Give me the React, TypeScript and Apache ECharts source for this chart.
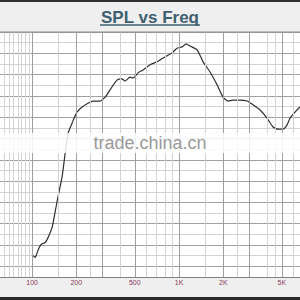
import React, { useEffect, useRef } from "react";
import * as echarts from "echarts";

const FREQ = [100, 105, 108, 112, 117, 123, 129, 137, 143, 150, 160, 168, 176, 187, 202, 219, 240, 260, 290, 314, 339, 378, 409, 429, 464, 486, 526, 569, 635, 709, 778, 896, 969, 1048, 1116, 1188, 1326, 1457, 1625, 1814, 1992, 2154, 2329, 2600, 2901, 3187, 3556, 3968, 4360, 4716, 5100, 5429, 5690, 6152, 6650];
const SPL = [52.7, 52.1, 53.1, 54.5, 55.3, 55.6, 56.9, 59.2, 62.5, 66.3, 71.0, 76.6, 81.3, 83.6, 86.2, 87.4, 88.3, 88.8, 88.8, 89.7, 91.4, 93.7, 94.0, 93.5, 94.4, 94.2, 95.4, 96.1, 97.3, 98.0, 98.9, 100.1, 101.2, 101.5, 102.2, 101.7, 100.8, 98.0, 95.6, 92.6, 89.7, 88.8, 89.0, 89.0, 88.8, 87.9, 86.7, 84.8, 82.7, 82.2, 82.2, 83.2, 84.8, 86.2, 87.4];

const MAJOR_GRID_FREQ = [100, 200, 300, 500, 1000, 2000, 3000, 5000];
const MINOR_GRID_FREQ = [65, 70, 75, 80, 85, 90, 95, 150, 250, 400, 600, 700, 800, 900, 1500, 2500, 4000, 4500, 6000];
const TICK_FREQ = [100, 200, 500, 1000, 2000, 5000];
const TICK_LABELS = ["100", "200", "500", "1K", "2K", "5K"];

const X_MIN = 60.5;
const X_MAX = 6650;
const Y_MIN = 47.5;
const Y_MAX = 105;
const Y_STEP = 2.5;

export default function App() {
  const ref = useRef<HTMLDivElement>(null);
  useEffect(() => {
    document.body.style.margin = "0";
    if (!ref.current) return;
    const chart = echarts.init(ref.current, null, { renderer: "svg" });

    const gridLines: any[] = [];
    MINOR_GRID_FREQ.forEach((f) =>
      gridLines.push({ xAxis: f, lineStyle: { color: "#d2d2d2", width: 1, type: "solid" }, label: { show: false } })
    );
    MAJOR_GRID_FREQ.forEach((f) => {
      const ti = TICK_FREQ.indexOf(f);
      gridLines.push({
        xAxis: f,
        lineStyle: { color: "#a0a0a0", width: 1, type: "solid" },
        label: ti >= 0
          ? { show: true, formatter: TICK_LABELS[ti], position: "start", distance: 2, color: "#8a3a5a", fontSize: 7, fontFamily: "Liberation Sans" }
          : { show: false },
      });
    });

    chart.setOption({
      animation: false,
      backgroundColor: "#ffffff",
      grid: { left: 0, right: 0, top: 32, bottom: 23, containLabel: false },
      xAxis: {
        type: "log",
        min: X_MIN,
        max: X_MAX,
        axisLabel: { show: false },
        axisTick: { show: false },
        splitLine: { show: false },
        axisLine: { show: true, lineStyle: { color: "#808080", width: 1 } },
      },
      yAxis: {
        type: "value",
        min: Y_MIN,
        max: Y_MAX,
        interval: Y_STEP,
        axisLabel: { show: false },
        axisTick: { show: false },
        axisLine: { show: false },
        splitLine: { show: true, lineStyle: { color: ["#d2d2d2", "#a0a0a0"], width: 1 } },
      },
      series: [
        {
          type: "line",
          data: [],
          z: 1,
          silent: true,
          markLine: {
            silent: true,
            symbol: ["none", "none"],
            animation: false,
            data: gridLines,
          },
        },
        {
          type: "line",
          z: 3,
          data: FREQ.map((f, i) => [f, SPL[i]]),
          showSymbol: false,
          smooth: 0.2,
          lineStyle: { color: "#2e2e2e", width: 1.2 },
          silent: true,
        },
      ],
      graphic: [
        { type: "rect", shape: { x: 0, y: 0, width: 300, height: 32 }, style: { fill: "#efefef" }, z: 10 },
        { type: "rect", shape: { x: 0, y: 0, width: 300, height: 2 }, style: { fill: "#303030" }, z: 11 },
        { type: "line", shape: { x1: 0, y1: 32, x2: 300, y2: 32 }, style: { stroke: "#8a8a8a", lineWidth: 1 }, z: 11 },
        {
          type: "text",
          x: 150,
          y: 17,
          style: {
            text: "SPL vs Freq",
            fill: "#3e6070",
            font: "bold 17px 'Liberation Sans', Arial, sans-serif",
            align: "center",
            verticalAlign: "middle",
          },
          z: 12,
        },
        { type: "line", shape: { x1: 100, y1: 25, x2: 200, y2: 25 }, style: { stroke: "#3e6070", lineWidth: 1.5 }, z: 12 },
        { type: "rect", shape: { x: 0, y: 278, width: 300, height: 22 }, style: { fill: "#efefef" }, z: 0 },
        { type: "rect", shape: { x: 0, y: 297, width: 300, height: 3 }, style: { fill: "#2a2a2a" }, z: 11 },
        {
          type: "rect",
          shape: { x: 0, y: 133, width: 300, height: 20 },
          style: { fill: "rgba(255,255,255,0.85)" },
          z: 20,
        },
        {
          type: "text",
          x: 150,
          y: 143,
          style: {
            text: "trade.china.cn",
            fill: "#999999",
            font: "18px 'Liberation Sans', Arial, sans-serif",
            align: "center",
            verticalAlign: "middle",
          },
          z: 21,
        },
      ],
    });
    return () => chart.dispose();
  }, []);
  return <div ref={ref} style={{ width: 300, height: 300 }} />;
}
